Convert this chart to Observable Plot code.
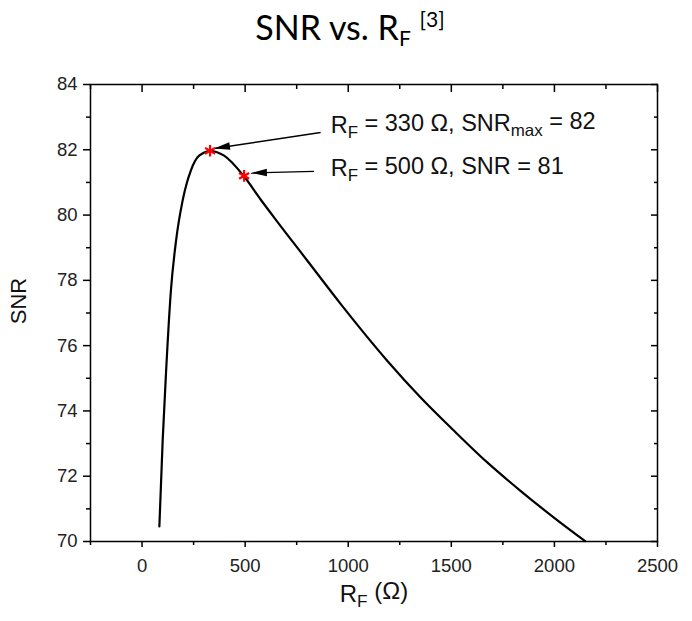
<!DOCTYPE html>
<html>
<head>
<meta charset="utf-8">
<script src="https://cdn.jsdelivr.net/npm/d3@7"></script>
<script src="https://cdn.jsdelivr.net/npm/@observablehq/plot@0.6"></script>
<style>
  body { margin: 0; background: #fff; }
  #title { position: relative; height: 60px; width: 692px; font-family: Lato, "Open Sans", sans-serif; font-size: 34px; color: #000; }
  #title span.t { position: absolute; left: 4px; width: 692px; text-align: center; top: -3px; line-height: 44px; white-space: nowrap; }
  #title sub { font-size: 62%; vertical-align: -0.28em; }
  #title sup { font-size: 62%; vertical-align: 0.6em; }
</style>
</head>
<body>
<div id="title"><span class="t">SNR vs. R<sub>F</sub> <sup>[3]</sup></span></div>
<div id="chart"></div>
<script>
// Curve data
const rf  = [84, 100, 116, 140, 165, 197, 237, 277, 331, 398, 495, 576, 640, 802, 963, 1189, 1350, 1512, 1673, 1834, 1996, 2149];
const snr = [70.46, 73.09, 75.14, 77.69, 79.22, 80.45, 81.37, 81.82, 81.96, 81.82, 81.18, 80.47, 79.93, 78.6, 77.28, 75.54, 74.42, 73.40, 72.43, 71.56, 70.74, 70.01];

// Highlighted points
const markRf  = [330, 495];
const markSnr = [81.97, 81.2];

// Annotation labels and arrows (data units)
const labels   = ["R_F = 330 Ω, SNR_max = 82", "R_F = 500 Ω, SNR = 81"];
const labelRf  = [915, 915];
const labelSnr = [82.75, 81.43];
const arrowRf1  = [866, 834];
const arrowSnr1 = [82.53, 81.34];
const arrowRf2  = [349, 528];
const arrowSnr2 = [82.04, 81.29];

// Ticks
const xMajor = [0, 500, 1000, 1500, 2000, 2500];
const xMinor = [-250, 250, 750, 1250, 1750, 2250];
const yMajor = [70, 72, 74, 76, 78, 80, 82, 84];
const yMinor = [71, 73, 75, 77, 79, 81, 83];

const curve = rf.map((r, i) => ({rf: r, snr: snr[i]}));
const marks = markRf.map((r, i) => ({rf: r, snr: markSnr[i]}));
const notes = labels.map((t, i) => ({text: t, rf: labelRf[i], snr: labelSnr[i]}));
const arrows = arrowRf1.map((r, i) => ({x1: r, y1: arrowSnr1[i], x2: arrowRf2[i], y2: arrowSnr2[i]}));

function filledArrow(color, context) {
  const doc = (context && context.document) || document;
  const ns = "http://www.w3.org/2000/svg";
  const m = doc.createElementNS(ns, "marker");
  m.setAttribute("viewBox", "-17 -5 18 10");
  m.setAttribute("markerWidth", 18);
  m.setAttribute("markerHeight", 10);
  m.setAttribute("markerUnits", "userSpaceOnUse");
  m.setAttribute("orient", "auto");
  m.setAttribute("refX", 0);
  m.setAttribute("refY", 0);
  const p = doc.createElementNS(ns, "path");
  p.setAttribute("d", "M-16,-3.8L0,0L-16,3.8Z");
  p.setAttribute("fill", "black");
  p.setAttribute("stroke", "none");
  m.appendChild(p);
  return m;
}

const font = "Arial, 'Liberation Sans', sans-serif";

const plot = Plot.plot({
  width: 692,
  height: 561,
  marginTop: 24,
  marginBottom: 80,
  marginLeft: 90,
  marginRight: 35,
  style: {fontFamily: font, background: "#fff", color: "#000"},
  x: {domain: [-250, 2500]},
  y: {domain: [70, 84]},
  marks: [
    Plot.axisX(xMajor, {anchor: "bottom", tickSize: 6, tickPadding: 11, fontSize: 18.5, label: null, strokeWidth: 1.5, fill: "#222", tickFormat: "d"}),
    Plot.axisX(xMinor, {anchor: "bottom", tickSize: 4, tickFormat: () => "", label: null, strokeWidth: 1.5}),
    Plot.axisX(xMajor, {anchor: "top", tickSize: -7, tickFormat: () => "", label: null, strokeWidth: 1.5}),
    Plot.axisX(xMinor, {anchor: "top", tickSize: -4, tickFormat: () => "", label: null, strokeWidth: 1.5}),
    Plot.axisY(yMajor, {anchor: "left", tickSize: 7, tickPadding: 6, fontSize: 18.5, label: null, strokeWidth: 1.5, fill: "#222"}),
    Plot.axisY(yMinor, {anchor: "left", tickSize: 4, tickFormat: () => "", label: null, strokeWidth: 1.5}),
    Plot.axisY(yMajor, {anchor: "right", tickSize: -7, tickFormat: () => "", label: null, strokeWidth: 1.5}),
    Plot.axisY(yMinor, {anchor: "right", tickSize: -4, tickFormat: () => "", label: null, strokeWidth: 1.5}),
    Plot.frame({stroke: "black", strokeWidth: 1.5}),
    Plot.line(curve, {x: "rf", y: "snr", stroke: "black", strokeWidth: 2.2, curve: "monotone-x"}),
    Plot.link(arrows, {x1: "x1", y1: "y1", x2: "x2", y2: "y2", stroke: "black", strokeWidth: 1.4, markerEnd: filledArrow}),
    Plot.dot(marks, {x: "rf", y: "snr", symbol: "asterisk", r: 5.5, stroke: "red", strokeWidth: 2.2}),
    Plot.text(notes, {x: "rf", y: "snr", text: "text", textAnchor: "start", fontSize: 23.5, fill: "#111", className: "subtext"}),
    Plot.text(["R_F (Ω)"], {frameAnchor: "bottom", dy: 60, fontSize: 24, fill: "#111", className: "subtext"}),
    Plot.text(["SNR"], {frameAnchor: "left", textAnchor: "middle", dx: -72, dy: -12, rotate: -90, fontSize: 22, fill: "#111"})
  ]
});

document.getElementById("chart").appendChild(plot);

// Turn "X_sub" into real subscripts
d3.select(plot).selectAll("g.subtext text").each(function() {
  const el = d3.select(this);
  const s = el.text();
  el.text("");
  const parts = s.split(/_(\w+)/);
  parts.forEach((part, i) => {
    if (i % 2 === 0) {
      const t = el.append("tspan").text(part);
      if (i > 0) t.attr("dy", "-0.3em");
    } else {
      el.append("tspan").attr("font-size", "72%").attr("dy", "0.3em").text(part);
    }
  });
});
</script>
</body>
</html>
